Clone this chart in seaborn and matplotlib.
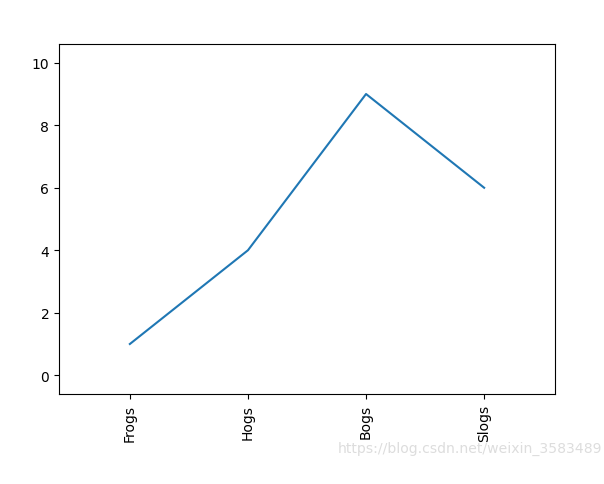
import matplotlib
matplotlib.use('Agg')
import matplotlib.pyplot as plt
import seaborn as sns

x = [1, 2, 3, 4]
y = [1, 4, 9, 6]
labels = ['Frogs', 'Hogs', 'Bogs', 'Slogs']

fig = plt.figure(figsize=(6.04, 4.85), dpi=100)
ax = fig.add_axes([59 / 604, 1 - 395 / 485, (555 - 59) / 604, (395 - 45) / 485])
sns.lineplot(x=x, y=y, ax=ax, color='#1f77b4')
ax.set_xticks(x)
ax.set_xticklabels(labels, rotation='vertical')
ax.margins(0.2)

# watermark
fig.text(338 / 604, 1 - 449 / 485, 'https://blog.csdn.net/weixin_3583489',
         fontsize=10.1, color='#dddddd', va='center', ha='left')

fig.savefig('out.png', dpi=100)
